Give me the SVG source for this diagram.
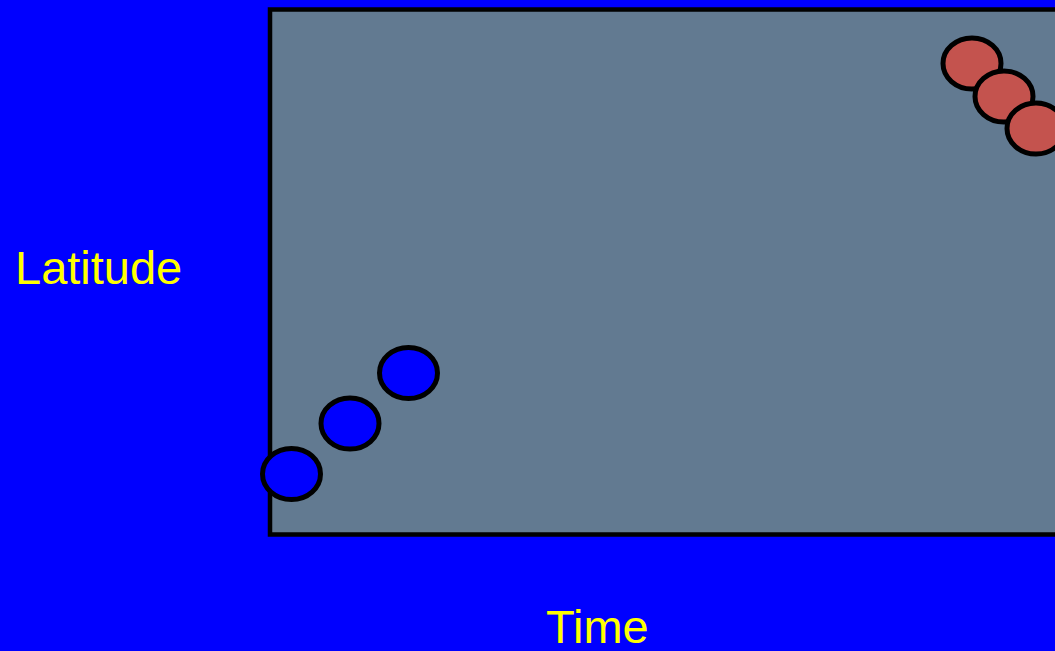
<svg xmlns="http://www.w3.org/2000/svg" width="1055" height="651" viewBox="0 0 1055 651">
<style>
.lbl{font-family:"Liberation Sans",Arial,sans-serif;font-size:47px;fill:#FFFF00}
.dot{stroke:#000;stroke-width:5}
.b{fill:#0000FF}
.r{fill:#C4534E}
</style>
<rect width="1055" height="651" fill="#0000FF"/>
<g id="plot">
<rect x="270" y="9.5" width="800" height="525" fill="#627A91" stroke="#000" stroke-width="4.5"/>
</g>
<g id="blue-dots">
<ellipse id="b1" class="dot b" cx="291.5" cy="474" rx="29" ry="25.5"/>
<ellipse id="b2" class="dot b" cx="350" cy="423.5" rx="29" ry="25.5"/>
<ellipse id="b3" class="dot b" cx="408.5" cy="373" rx="29" ry="25.5"/>
</g>
<g id="red-dots">
<ellipse id="r1" class="dot r" cx="972" cy="63.5" rx="29" ry="25.5"/>
<ellipse id="r2" class="dot r" cx="1004" cy="96.5" rx="29" ry="25.5"/>
<ellipse id="r3" class="dot r" cx="1036" cy="128.5" rx="29" ry="25.5"/>
</g>
<g id="connectors"></g>
<text class="lbl" x="15" y="284">Latitude</text>
<text class="lbl" x="546" y="643">Time</text>
</svg>
